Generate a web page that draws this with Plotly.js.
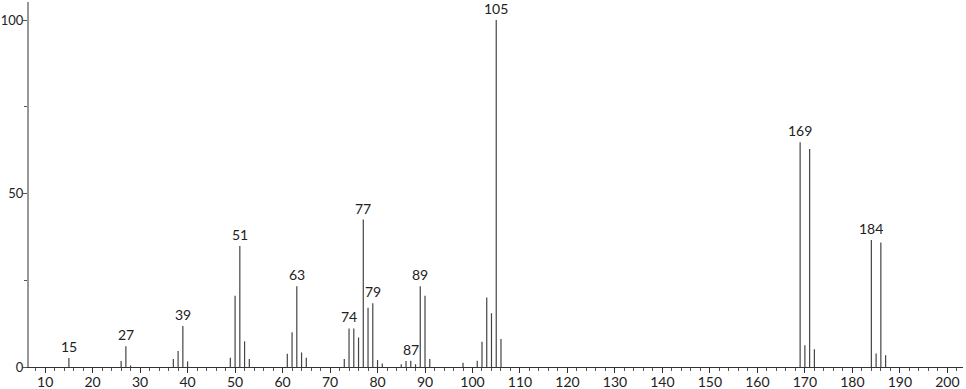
<!DOCTYPE html>
<html>
<head>
<meta charset="utf-8">
<script src="https://cdn.plot.ly/plotly-3.0.1.min.js"></script>
<style>html,body{margin:0;padding:0;background:#fff;}#chart{width:966px;height:389px;}</style>
</head>
<body>
<div id="chart"></div>
<script>
// m/z values and relative intensities
const mz = [15, 26, 27, 28, 37, 38, 39, 40, 49, 50, 51, 52, 53, 61, 62, 63, 64, 65,
  73, 74, 75, 76, 77, 78, 79, 80, 81, 85, 86, 87, 88, 89, 90, 91, 98, 101, 102, 103,
  104, 105, 106, 169, 170, 171, 172, 184, 185, 186, 187];
const intensity = [2.6, 1.7, 6.0, 0.4, 2.3, 4.6, 11.8, 1.6, 2.7, 20.5, 34.9, 7.4, 2.3, 3.8, 10.0, 23.3, 4.2, 2.7,
  2.3, 11.1, 11.1, 8.5, 42.5, 17.1, 18.4, 2.0, 1.0, 0.8, 1.7, 1.8, 0.8, 23.3, 20.5, 2.3, 1.2, 1.8, 7.3, 20.0,
  15.5, 100, 8.1, 64.8, 6.3, 62.8, 5.1, 36.6, 3.9, 35.9, 3.4];
const labeledPeaks = [15, 27, 39, 51, 63, 74, 77, 79, 87, 89, 105, 169, 184];
const yTickVals = [0, 50, 100];

const xs = [], ys = [];
mz.forEach((m, i) => { xs.push(m, m, null); ys.push(0, intensity[i], null); });

const trace = {
  x: xs, y: ys, type: 'scatter', mode: 'lines',
  line: {color: '#444', width: 1.2}, hoverinfo: 'skip', showlegend: false
};

const font = {family: 'Lato, "DejaVu Sans", sans-serif', size: 14, color: '#222'};
const yfont = {family: 'Lato, "DejaVu Sans", sans-serif', size: 13, color: '#222'};

const annotations = labeledPeaks.map(m => ({
  x: m, y: intensity[mz.indexOf(m)], text: String(m), showarrow: false,
  xanchor: 'center', yanchor: 'bottom', yshift: 1, font: font
}));

const layout = {
  width: 966, height: 389,
  margin: {l: 29, r: 3, t: 2, b: 22},
  paper_bgcolor: '#fff', plot_bgcolor: '#fff',
  font: font,
  showlegend: false,
  xaxis: {
    range: [6.6, 203.3], showgrid: false, zeroline: false,
    showline: true, linecolor: '#333', linewidth: 1,
    tick0: 0, dtick: 10, ticks: 'outside', ticklen: 5, tickcolor: '#333', tickwidth: 1,
    minor: {dtick: 2, ticks: 'outside', ticklen: 3, tickcolor: '#555'},
    ticklabelstandoff: -3,
    tickfont: font
  },
  yaxis: {
    range: [0, 105.2], showgrid: false, zeroline: false,
    showline: true, linecolor: '#999', linewidth: 2,
    tickvals: yTickVals, ticks: 'outside', ticklen: 4, tickcolor: '#555',
    minor: {tickvals: [25, 75], ticks: 'outside', ticklen: 3, tickcolor: '#555'},
    ticklabelstandoff: -3,
    tickfont: yfont
  },
  annotations: annotations
};

Plotly.newPlot('chart', [trace], layout, {displayModeBar: false, staticPlot: true});
</script>
</body>
</html>
